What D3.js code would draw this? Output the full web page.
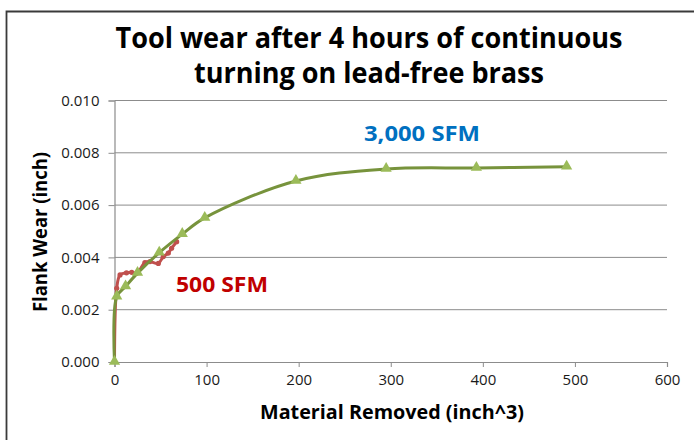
<!DOCTYPE html>
<html>
<head>
<meta charset="utf-8">
<script src="https://cdn.jsdelivr.net/npm/d3@7"></script>
<style>
  body { margin: 0; background: #fff; }
  text { font-family: "Open Sans", "Noto Sans", sans-serif; }
</style>
</head>
<body>
<div id="chart"></div>
<script>
// data
var titleLines = ["Tool wear after 4 hours of continuous", "turning on lead-free brass"];
var xTicks = [0, 100, 200, 300, 400, 500, 600];
var yTicks = [0, 0.002, 0.004, 0.006, 0.008, 0.010];

// 3,000 SFM
var fastX = [0, 2.4, 12, 25, 48.6, 73.6, 98, 197, 295, 393, 491];
var fastY = [0, 0.0025, 0.00289, 0.0034, 0.00418, 0.00489, 0.00551, 0.00692, 0.00738, 0.00742, 0.00747];

// 500 SFM
var slowX = [0, 2.4, 6, 13, 18.7, 24, 33, 38.5, 47.6, 53, 58.4, 62, 67.5];
var slowY = [0, 0.00282, 0.00333, 0.00341, 0.00343, 0.00339, 0.0038, 0.00384, 0.00377, 0.00403, 0.00416, 0.00435, 0.0046];

var W = 694, H = 440;
var margin = { top: 100.5, right: 27, bottom: 78, left: 114.5 },
    width = W - margin.left - margin.right,
    height = H - margin.top - margin.bottom;

var svg = d3.select("#chart").append("svg")
    .attr("width", W).attr("height", H);

// frame
svg.append("path")
    .attr("d", "M6.5," + H + "V11.5H" + W)
    .attr("fill", "none").attr("stroke", "#3a3a3a").attr("stroke-width", 1.8);

var g = svg.append("g")
    .attr("transform", "translate(" + margin.left + "," + margin.top + ")");

var xScale = d3.scaleLinear().domain([0, 600]).range([0, width]);
var yScale = d3.scaleLinear().domain([0, 0.010]).range([height, 0]);

//gridlines
g.selectAll(".grid")
    .data(yTicks.slice(1))
    .enter().append("line")
    .attr("x1", 0).attr("x2", width)
    .attr("y1", function (d) { return yScale(d); })
    .attr("y2", function (d) { return yScale(d); })
    .attr("stroke", "#8c8c8c").attr("stroke-width", 1);

// axes
var xAxis = d3.axisBottom(xScale).tickValues(xTicks).tickSize(5).tickPadding(7)
    .tickFormat(d3.format("d"));
var yAxis = d3.axisLeft(yScale).tickValues(yTicks).tickSize(6).tickPadding(9)
    .tickFormat(d3.format(".3f"));

var xNode = g.append("g").attr("transform", "translate(0," + height + ")").call(xAxis);
var yNode = g.append("g").call(yAxis);
[xNode, yNode].forEach(function (n) {
    n.select(".domain").attr("stroke", "#8c8c8c").attr("stroke-width", 1.2);
    n.selectAll(".tick line").attr("stroke", "#8c8c8c");
    n.selectAll(".tick text").attr("fill", "#1a1a1a").style("font-size", "15px")
        .style("font-family", "'Open Sans', sans-serif");
});

// series
var fast = fastX.map(function (x, i) { return { x: x, y: fastY[i] }; });
var slow = slowX.map(function (x, i) { return { x: x, y: slowY[i] }; });

var line = d3.line()
    .curve(d3.curveCatmullRom.alpha(0.5))
    .x(function (d) { return xScale(d.x); })
    .y(function (d) { return yScale(d.y); });

g.append("path").attr("d", line(slow))
    .attr("fill", "none").attr("stroke", "#c0504d").attr("stroke-width", 3);
g.selectAll(".dot").data(slow.slice(1)).enter().append("circle")
    .attr("cx", function (d) { return xScale(d.x); })
    .attr("cy", function (d) { return yScale(d.y); })
    .attr("r", 2.6).attr("fill", "#c0504d");

g.append("path").attr("d", line(fast))
    .attr("fill", "none").attr("stroke", "#77933c").attr("stroke-width", 3);
var tri = d3.symbol().type(d3.symbolTriangle).size(55);
g.selectAll(".tri").data(fast).enter().append("path")
    .attr("d", tri)
    .attr("transform", function (d) { return "translate(" + xScale(d.x) + "," + (yScale(d.y) - 0.5) + ")"; })
    .attr("fill", "#9bbb59");

// labels
svg.append("text").text("3,000 SFM")
    .attr("x", 422).attr("y", 141).attr("text-anchor", "middle")
    .attr("textLength", 116).attr("lengthAdjust", "spacingAndGlyphs")
    .attr("fill", "#0070c0").style("font-size", "21px").style("font-weight", "bold");
svg.append("text").text("500 SFM")
    .attr("x", 222).attr("y", 292).attr("text-anchor", "middle")
    .attr("textLength", 92).attr("lengthAdjust", "spacingAndGlyphs")
    .attr("fill", "#c00000").style("font-size", "21px").style("font-weight", "bold");

// title
svg.selectAll(".title").data(titleLines).enter().append("text")
    .attr("x", 369).attr("y", function (d, i) { return 48 + i * 35; })
    .attr("text-anchor", "middle")
    .attr("textLength", function (d, i) { return i === 0 ? 507 : 350; })
    .attr("lengthAdjust", "spacingAndGlyphs")
    .style("font-size", "28px").style("font-weight", "bold").attr("fill", "#000")
    .text(function (d) { return d; });

// axis titles
svg.append("text").text("Material Removed (inch^3)")
    .attr("x", 392).attr("y", 419).attr("text-anchor", "middle")
    .attr("textLength", 264).attr("lengthAdjust", "spacingAndGlyphs")
    .style("font-size", "19px").style("font-weight", "bold");
svg.append("text").text("Flank Wear (inch)")
    .attr("transform", "translate(47,232) rotate(-90)")
    .attr("text-anchor", "middle")
    .attr("textLength", 160).attr("lengthAdjust", "spacingAndGlyphs")
    .style("font-size", "19px").style("font-weight", "bold");
</script>
</body>
</html>
